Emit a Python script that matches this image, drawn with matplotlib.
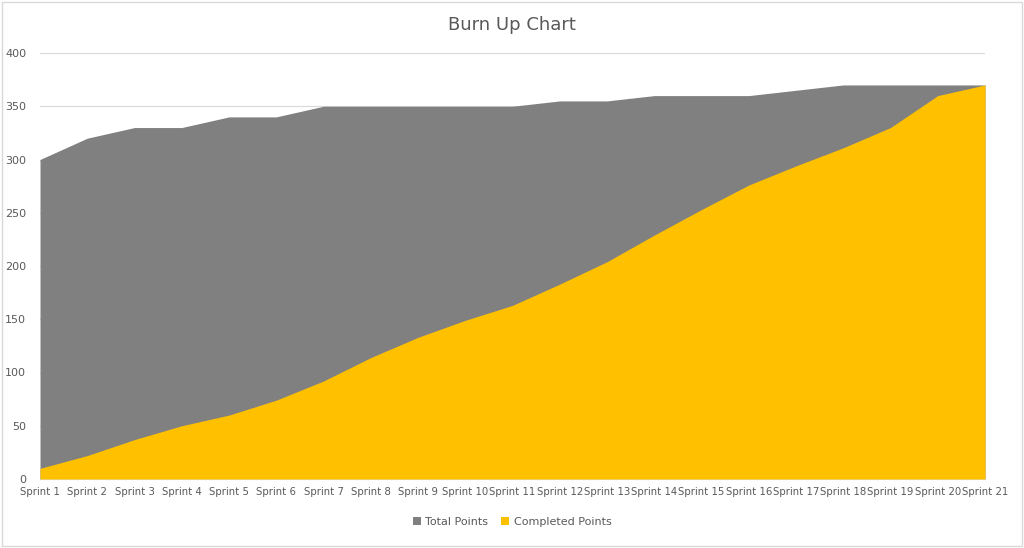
import matplotlib.pyplot as plt
from matplotlib.patches import Rectangle

sprints = [f"Sprint {i}" for i in range(1, 22)]
total_points = [300, 320, 330, 330, 340, 340, 350, 350, 350, 350, 350,
                355, 355, 360, 360, 360, 365, 370, 370, 370, 370]
completed_points = [10, 22, 37, 50, 60, 74, 92, 114, 133, 149, 163,
                    183, 204, 229, 253, 276, 294, 311, 330, 360, 370]

GREY = "#808080"
GOLD = "#FFC000"
TEXT = "#595959"

fig = plt.figure(figsize=(10.24, 5.48), dpi=100)
ax = fig.add_axes([40 / 1024, 1 - 479 / 548, 945 / 1024, 426 / 548])

x = list(range(len(sprints)))
ax.fill_between(x, 0, total_points, color=GREY, linewidth=0, label="Total Points", zorder=2)
ax.fill_between(x, 0, completed_points, color=GOLD, linewidth=0, label="Completed Points", zorder=3)

ax.set_xlim(0, len(sprints) - 1)
ax.set_ylim(0, 400)
ax.set_yticks(range(0, 401, 50))
ax.set_xticks(x)
ax.set_xticklabels(sprints)
ax.tick_params(axis="both", length=0, colors=TEXT)
ax.tick_params(axis="x", labelsize=7.3, pad=6)
ax.tick_params(axis="y", labelsize=8, pad=10)
ax.grid(axis="y", color="#d9d9d9", linewidth=0.8, zorder=0)
ax.set_axisbelow(True)
for side in ["top", "right", "left"]:
    ax.spines[side].set_visible(False)
ax.spines["bottom"].set_color("#d9d9d9")

fig.text(0.5, 1 - 25 / 548, "Burn Up Chart", ha="center", va="center",
         fontsize=13, color=TEXT)
fig.legend(loc="center", bbox_to_anchor=(0.5, 1 - 522 / 548), ncol=2, frameon=False,
           fontsize=8, labelcolor=TEXT, handlelength=0.7, handleheight=0.7,
           columnspacing=1.2, handletextpad=0.4)

fig.patches.append(Rectangle((0.002, 0.003), 0.996, 0.994, transform=fig.transFigure,
                             fill=False, edgecolor="#d9d9d9", linewidth=1))

fig.savefig("out.png", dpi=100)
